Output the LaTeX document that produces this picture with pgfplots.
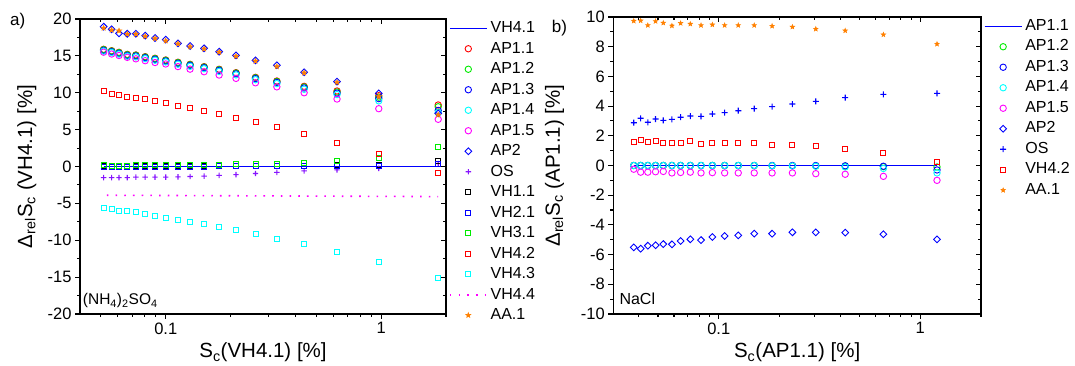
\documentclass[border=0pt]{standalone}
\usepackage{fontspec}
\setmainfont{Liberation Sans}
\usepackage{pgfplots}
\pgfplotsset{compat=1.18}
\usepackage{pgfplotstable}

\definecolor{cgreen}{RGB}{0,235,0}
\definecolor{cviolet}{RGB}{135,20,255}
\definecolor{corange}{RGB}{255,128,0}
\definecolor{ccyan}{RGB}{0,255,255}
\definecolor{cmag}{RGB}{255,0,255}

\newcommand\fT{\fontsize{16.5}{19}\selectfont}
\newcommand\fL{\fontsize{16}{19}\selectfont}
\newcommand\fX{\fontsize{20.5}{24}\selectfont}

\pgfdeclareplotmark{fstar}{%
\pgfpathmoveto{\pgfpointpolar{90}{\pgfplotmarksize}}%
\pgfpathlineto{\pgfpointpolar{126}{0.42\pgfplotmarksize}}%
\pgfpathlineto{\pgfpointpolar{162}{\pgfplotmarksize}}%
\pgfpathlineto{\pgfpointpolar{198}{0.42\pgfplotmarksize}}%
\pgfpathlineto{\pgfpointpolar{234}{\pgfplotmarksize}}%
\pgfpathlineto{\pgfpointpolar{270}{0.42\pgfplotmarksize}}%
\pgfpathlineto{\pgfpointpolar{306}{\pgfplotmarksize}}%
\pgfpathlineto{\pgfpointpolar{342}{0.42\pgfplotmarksize}}%
\pgfpathlineto{\pgfpointpolar{18}{\pgfplotmarksize}}%
\pgfpathlineto{\pgfpointpolar{54}{0.42\pgfplotmarksize}}%
\pgfpathclose
\pgfusepathqfillstroke}

\pgfdeclareplotmark{fplus}{%
\pgfpathrectangle{\pgfpoint{-\pgfplotmarksize}{-0.55pt}}{\pgfpoint{2\pgfplotmarksize}{1.1pt}}%
\pgfpathrectangle{\pgfpoint{-0.55pt}{-\pgfplotmarksize}}{\pgfpoint{1.1pt}{2\pgfplotmarksize}}%
\pgfusepathqfill}

% (NH4)2SO4 data
\pgfplotstableread{
x      ap11  ap12  ap13  ap14  ap15  ap2   os    vh11 vh21 vh31 vh42  vh43   aa1
0.0515 15.89 15.85 15.75 15.65 15.50 18.96 -1.50 0.05 0.00 0.20 10.28 -5.58 18.78
0.0561 15.70 15.66 15.56 15.46 15.25 18.60 -1.50 0.05 0.00 0.10  9.83 -5.81 18.50
0.0607 15.48 15.44 15.34 15.24 15.05 18.06 -1.50 0.05 0.00 0.10  9.69 -5.99 18.40
0.0663 15.20 15.16 15.06 14.96 14.80 18.00 -1.50 0.05 0.00 0.10  9.47 -6.08 17.95
0.0727 15.12 15.08 14.98 14.86 14.60 18.00 -1.45 0.05 0.00 0.15  9.33 -6.21 17.95
0.0803 14.89 14.85 14.75 14.63 14.35 17.74 -1.45 0.05 0.00 0.15  9.11 -6.48 17.65
0.0892 14.67 14.63 14.53 14.41 14.10 17.42 -1.45 0.05 0.00 0.15  8.84 -6.76 17.35
0.1000 14.44 14.40 14.30 14.18 13.90 17.20 -1.45 0.05 0.00 0.20  8.57 -6.94 17.05
0.1140 14.13 14.09 13.99 13.87 13.55 16.70 -1.40 0.05 0.00 0.15  8.20 -7.25 16.65
0.1297 13.85 13.81 13.71 13.58 13.20 16.34 -1.35 0.05 0.00 0.15  7.89 -7.57 16.25
0.1507 13.54 13.49 13.39 13.26 12.85 16.02 -1.30 0.05 0.00 0.20  7.57 -7.84 15.95
0.1770 13.18 13.13 13.03 12.89 12.40 15.57 -1.20 0.05 0.05 0.25  7.12 -8.25 15.50
0.2120 12.72 12.67 12.56 12.42 11.95 15.07 -1.10 0.05 0.05 0.30  6.62 -8.61 14.95
0.2610 12.09 12.03 11.92 11.77 11.35 14.40 -0.95 0.05 0.05 0.30  5.99 -9.20 14.30
0.3280 11.59 11.52 11.40 11.24 10.80 13.72 -0.80 0.05 0.05 0.35  5.31 -9.79 13.55
0.4390 10.87 10.78 10.65 10.47 10.00 12.77 -0.60 0.10 0.05 0.50  4.41 -10.55 12.70
0.6240 10.24 10.10  9.95  9.75  9.15 11.50 -0.45 0.15 0.05 0.80  3.23 -11.55 11.40
0.9750  9.60  9.40  9.20  8.90  7.84  9.92 -0.25 0.20 0.10 1.20  1.65 -13.00  9.50
1.8400  8.34  8.10  7.60  7.30  6.40  7.21  0.40 0.70 0.38 2.64 -0.88 -15.16  7.00
}\tabA

% NaCl data
\pgfplotstableread{
x      ap12  ap13  ap14  ap15  ap2   os   vh42 aa1
0.0379  0.00  0.00  0.00 -0.25 -5.51 2.88 1.56 9.73
0.0410  0.00  0.00  0.00 -0.45 -5.60 3.18 1.72 9.75
0.0445  0.00  0.00  0.00 -0.45 -5.40 2.91 1.58 9.44
0.0486  0.00  0.00  0.00 -0.42 -5.37 3.13 1.67 9.71
0.0531  0.00  0.00  0.00 -0.40 -5.29 3.04 1.52 9.60
0.0586  0.00  0.00  0.00 -0.50 -5.31 3.11 1.54 9.41
0.0647  0.00  0.00  0.00 -0.47 -5.08 3.25 1.54 9.58
0.0723  0.00  0.00  0.00 -0.45 -4.97 3.33 1.67 9.53
0.0817  0.00  0.00  0.00 -0.50 -5.02 3.31 1.47 9.44
0.0930  0.00  0.00  0.00 -0.48 -4.82 3.47 1.52 9.48
0.1070  0.00  0.00  0.00 -0.50 -4.75 3.56 1.49 9.44
0.1250  0.00  0.00  0.00 -0.50 -4.70 3.69 1.52 9.44
0.1500  0.00  0.00  0.00 -0.50 -4.59 3.83 1.49 9.44
0.1840 -0.02  0.00 -0.02 -0.50 -4.59 3.96 1.40 9.39
0.2320 -0.02  0.00 -0.03 -0.50 -4.50 4.14 1.38 9.33
0.3030 -0.03  0.00 -0.05 -0.55 -4.50 4.32 1.29 9.19
0.4240 -0.05 -0.02 -0.10 -0.59 -4.52 4.57 1.11 9.08
0.6560 -0.08 -0.05 -0.20 -0.73 -4.63 4.79 0.84 8.81
1.2100 -0.10 -0.30 -0.50 -1.00 -4.97 4.86 0.26 8.18
}\tabB

\begin{document}
\begin{tikzpicture}
\useasboundingbox (0,0) rectangle (1075pt,366pt);

% ---------- panel a ----------
\begin{axis}[xmode=log, scale only axis, anchor=south west,
  at={(80pt,52pt)}, width=366pt, height=295pt,
  axis line style={line width=1.2pt},
  major tick style={line width=1.1pt, black},
  minor tick style={line width=1.1pt, black},
  major tick length=5pt, minor tick length=3pt,
  xtick={0.1,1}, xticklabels={0.1,1},
  ticklabel style={font=\fT},
  xmin=0.04, xmax=2, ymin=-20, ymax=20,
  minor xtick={0.05,0.06,0.07,0.08,0.09,0.2,0.3,0.4,0.5,0.6,0.7,0.8,0.9,2},
  ytick={-20,-15,-10,-5,0,5,10,15,20},
  yticklabels={-20,-15,-10,-5,0,5,10,15,20},
  minor ytick={-17.5,-12.5,-7.5,-2.5,2.5,7.5,12.5,17.5},
  xtick pos=left, ytick pos=left, tick align=outside,
  xlabel={S\textsubscript{c}(VH4.1) [\%]},
  ylabel={Δ\textsubscript{rel}S\textsubscript{c} (VH4.1) [\%]},
  label style={font=\fX},
  xlabel style={at={(axis description cs:0.5,-0.149)}, anchor=base},
  ylabel style={at={(axis description cs:-0.145,0.5)}, anchor=center},
  legend style={draw=none, fill=none, inner sep=0pt, outer sep=0pt,
      at={(1,1)}, anchor=north west, xshift=3pt, yshift=1pt,
      font=\fL, row sep=0pt, column sep=3pt,
      nodes={inner xsep=0pt, inner ysep=3pt, text height=11.5pt, text depth=3pt}},
  legend cell align=left,
  legend image code/.code={\draw[mark repeat=2,mark phase=2,#1] plot coordinates {(0pt,0pt) (18.5pt,0pt) (37pt,0pt)};},
]
\addplot[blue, line width=1.3pt] coordinates {(0.0515,0) (1.84,0)};
\addlegendentry{VH4.1}
\addplot[only marks, mark=o, mark size=3.2pt, line width=0.9pt, red] table[x=x,y=ap11]{\tabA};
\addlegendentry{AP1.1}
\addplot[only marks, mark=o, mark size=3.2pt, line width=0.9pt, cgreen] table[x=x,y=ap12]{\tabA};
\addlegendentry{AP1.2}
\addplot[only marks, mark=o, mark size=3.2pt, line width=0.9pt, blue] table[x=x,y=ap13]{\tabA};
\addlegendentry{AP1.3}
\addplot[only marks, mark=o, mark size=3.2pt, line width=0.9pt, ccyan] table[x=x,y=ap14]{\tabA};
\addlegendentry{AP1.4}
\addplot[only marks, mark=o, mark size=3.2pt, line width=0.9pt, cmag] table[x=x,y=ap15]{\tabA};
\addlegendentry{AP1.5}
\addplot[only marks, mark=square, mark size=2.4pt, line width=0.9pt, mark options={rotate=45}, blue] table[x=x,y=ap2]{\tabA};
\addlegendentry{AP2}
\addplot[only marks, mark=fplus, mark size=2.7pt, color=cviolet, fill=cviolet] table[x=x,y=os]{\tabA};
\addlegendentry{OS}
\addplot[only marks, mark=square, mark size=2.5pt, line width=0.9pt, black] table[x=x,y=vh11]{\tabA};
\addlegendentry{VH1.1}
\addplot[only marks, mark=square, mark size=2.5pt, line width=0.9pt, blue] table[x=x,y=vh21]{\tabA};
\addlegendentry{VH2.1}
\addplot[only marks, mark=square, mark size=2.5pt, line width=0.9pt, cgreen] table[x=x,y=vh31]{\tabA};
\addlegendentry{VH3.1}
\addplot[only marks, mark=square, mark size=2.5pt, line width=0.9pt, red] table[x=x,y=vh42]{\tabA};
\addlegendentry{VH4.2}
\addplot[only marks, mark=square, mark size=2.5pt, line width=0.9pt, ccyan] table[x=x,y=vh43]{\tabA};
\addlegendentry{VH4.3}
\addplot[cmag, line width=1.6pt, dash pattern=on 1.6pt off 7.1pt] coordinates {(0.0533,-3.9) (1.84,-4.08)};
\addlegendentry{VH4.4}
\addplot[only marks, mark=fstar, mark size=2.7pt, draw=corange, fill=corange, line width=0.5pt] table[x=x,y=aa1]{\tabA};
\addlegendentry{AA.1}
\end{axis}
\begin{axis}[xmode=log, scale only axis, anchor=south west,
  at={(80pt,52pt)}, width=366pt, height=295pt,
  axis line style={line width=1.2pt},
  major tick style={line width=1.1pt, black},
  minor tick style={line width=1.1pt, black},
  major tick length=5pt, minor tick length=3pt,
  xtick={0.1,1},
  xmin=0.04, xmax=2, ymin=-20, ymax=20,
  minor xtick={0.05,0.06,0.07,0.08,0.09,0.2,0.3,0.4,0.5,0.6,0.7,0.8,0.9,2},
  ytick={-20,-15,-10,-5,0,5,10,15,20},
  minor ytick={-17.5,-12.5,-7.5,-2.5,2.5,7.5,12.5,17.5},
  xtick pos=right, ytick pos=right, tick align=inside,
  xticklabels={}, yticklabels={}]
\end{axis}

% ---------- panel b ----------
\begin{axis}[xmode=log, scale only axis, anchor=south west,
  at={(613.3pt,52pt)}, width=367.7pt, height=297pt,
  axis line style={line width=1.2pt},
  major tick style={line width=1.1pt, black},
  minor tick style={line width=1.1pt, black},
  major tick length=5pt, minor tick length=3pt,
  xtick={0.1,1}, xticklabels={0.1,1},
  ticklabel style={font=\fT},
  xmin=0.03, xmax=2, ymin=-10, ymax=10,
  minor xtick={0.04,0.05,0.06,0.07,0.08,0.09,0.2,0.3,0.4,0.5,0.6,0.7,0.8,0.9,2},
  ytick={-10,-8,-6,-4,-2,0,2,4,6,8,10},
  yticklabels={-10,-8,-6,-4,-2,0,2,4,6,8,10},
  minor ytick={-9,-7,-5,-3,-1,1,3,5,7,9},
  xtick pos=left, ytick pos=left, tick align=outside,
  xlabel={S\textsubscript{c}(AP1.1) [\%]},
  ylabel={Δ\textsubscript{rel}S\textsubscript{c} (AP1.1) [\%]},
  label style={font=\fX},
  xlabel style={at={(axis description cs:0.5,-0.148)}, anchor=base},
  ylabel style={at={(axis description cs:-0.16,0.5)}, anchor=center},
  legend style={draw=none, fill=none, inner sep=0pt, outer sep=0pt,
      at={(1,1)}, anchor=north west, xshift=3pt, yshift=1pt,
      font=\fL, row sep=0pt, column sep=3pt,
      nodes={inner xsep=0pt, inner ysep=3pt, text height=11.5pt, text depth=3pt}},
  legend cell align=left,
  legend image code/.code={\draw[mark repeat=2,mark phase=2,#1] plot coordinates {(0pt,0pt) (18.5pt,0pt) (37pt,0pt)};},
]
\addplot[blue, line width=1.3pt] coordinates {(0.0379,0) (1.21,0)};
\addlegendentry{AP1.1}
\addplot[only marks, mark=o, mark size=3.2pt, line width=0.9pt, cgreen] table[x=x,y=ap12]{\tabB};
\addlegendentry{AP1.2}
\addplot[only marks, mark=o, mark size=3.2pt, line width=0.9pt, blue] table[x=x,y=ap13]{\tabB};
\addlegendentry{AP1.3}
\addplot[only marks, mark=o, mark size=3.2pt, line width=0.9pt, ccyan] table[x=x,y=ap14]{\tabB};
\addlegendentry{AP1.4}
\addplot[only marks, mark=o, mark size=3.2pt, line width=0.9pt, cmag] table[x=x,y=ap15]{\tabB};
\addlegendentry{AP1.5}
\addplot[only marks, mark=square, mark size=2.4pt, line width=0.9pt, mark options={rotate=45}, blue] table[x=x,y=ap2]{\tabB};
\addlegendentry{AP2}
\addplot[only marks, mark=fplus, mark size=3pt, color=blue, fill=blue] table[x=x,y=os]{\tabB};
\addlegendentry{OS}
\addplot[only marks, mark=square, mark size=2.5pt, line width=0.9pt, red] table[x=x,y=vh42]{\tabB};
\addlegendentry{VH4.2}
\addplot[only marks, mark=fstar, mark size=2.4pt, draw=corange, fill=corange, line width=0.5pt] table[x=x,y=aa1]{\tabB};
\addlegendentry{AA.1}
\end{axis}
\begin{axis}[xmode=log, scale only axis, anchor=south west,
  at={(613.3pt,52pt)}, width=367.7pt, height=297pt,
  axis line style={line width=1.2pt},
  major tick style={line width=1.1pt, black},
  minor tick style={line width=1.1pt, black},
  major tick length=5pt, minor tick length=3pt,
  xtick={0.1,1},
  xmin=0.03, xmax=2, ymin=-10, ymax=10,
  minor xtick={0.04,0.05,0.06,0.07,0.08,0.09,0.2,0.3,0.4,0.5,0.6,0.7,0.8,0.9,2},
  ytick={-10,-8,-6,-4,-2,0,2,4,6,8,10},
  minor ytick={-9,-7,-5,-3,-1,1,3,5,7,9},
  xtick pos=right, ytick pos=right, tick align=inside,
  xticklabels={}, yticklabels={}]
\end{axis}

% panel annotations
\node[anchor=base west, inner sep=0pt, font=\fontsize{17}{20}\selectfont] at (10pt,340pt) {a)};
\node[anchor=base west, inner sep=0pt, font=\fontsize{17}{20}\selectfont] at (551.7pt,333pt) {b)};
\node[anchor=base west, inner sep=0pt, font=\fontsize{15.5}{18}\selectfont] at (82.7pt,61pt) {(NH\textsubscript{4})\textsubscript{2}SO\textsubscript{4}};
\node[anchor=base west, inner sep=0pt, font=\fontsize{16}{19}\selectfont] at (619.3pt,61pt) {NaCl};
\end{tikzpicture}
\end{document}
